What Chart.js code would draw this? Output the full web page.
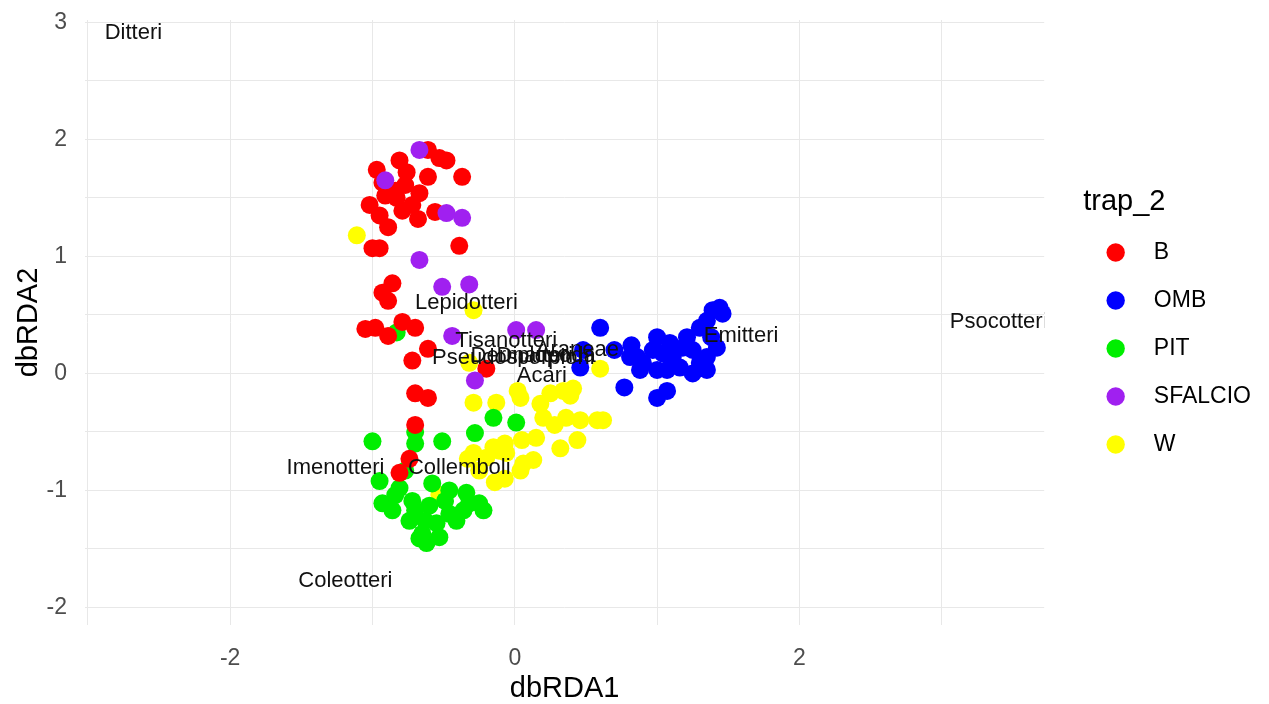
<!DOCTYPE html>
<html>
<head>
<meta charset="utf-8">
<script src="https://cdn.jsdelivr.net/npm/chart.js@4.4.1/dist/chart.umd.min.js"></script>
<style>
  html, body { margin: 0; padding: 0; background: #fff; }
  #wrap { width: 1269px; height: 704px; }
</style>
</head>
<body>
<div id="wrap"><canvas id="rdaCanvas" width="1269" height="704"></canvas></div>
<script>
// trap groups (legend order)
const trapNames = ['B', 'OMB', 'PIT', 'SFALCIO', 'W'];
const trapColors = ['#ff0000', '#0000ff', '#00ee00', '#a020f0', '#ffff00'];

// site scores: [dbRDA1, dbRDA2]
const pointsB = [
    [-0.81, 1.82], [-0.97, 1.74], [-0.93, 1.63], [-0.76, 1.72], [-0.77, 1.61], [-0.83, 1.50],
    [-0.67, 1.54], [-0.61, 1.68], [-0.61, 1.91], [-0.53, 1.84], [-0.48, 1.82], [-0.37, 1.68],
    [-1.02, 1.44], [-0.95, 1.35], [-0.89, 1.25], [-0.68, 1.32], [-0.56, 1.38], [-0.39, 1.09],
    [-1.00, 1.07], [-0.95, 1.07], [-0.86, 0.77], [-0.93, 0.69], [-0.89, 0.62], [-1.05, 0.38],
    [-0.98, 0.39], [-0.89, 0.32], [-0.79, 0.44], [-0.70, 0.39], [-0.61, 0.21], [-0.72, 0.11],
    [-0.20, 0.04], [-0.70, -0.17], [-0.61, -0.21], [-0.70, -0.44], [-0.74, -0.73], [-0.81, -0.85],
    [-0.84, 1.56], [-0.91, 1.52], [-0.72, 1.44], [-0.79, 1.39]
];
const pointsOMB = [
    [0.60, 0.39], [0.48, 0.20], [0.46, 0.05], [0.70, 0.20], [0.82, 0.24], [0.86, 0.14],
    [0.88, 0.03], [1.00, 0.31], [0.97, 0.20], [1.00, 0.03], [1.09, 0.26], [1.11, 0.14],
    [1.16, 0.05], [1.21, 0.31], [1.25, 0.20], [1.30, 0.09], [1.30, 0.39], [1.35, 0.45],
    [1.39, 0.54], [1.44, 0.56], [1.46, 0.51], [1.38, 0.31], [1.42, 0.22], [1.35, 0.03],
    [1.07, 0.03], [0.77, -0.12], [1.00, -0.21], [1.07, -0.15], [0.90, 0.09], [1.04, 0.17],
    [1.18, 0.22], [1.25, 0.00], [1.35, 0.14], [0.81, 0.14]
];
const pointsPIT = [
    [-1.00, -0.58], [-0.70, -0.50], [-0.70, -0.60], [-0.51, -0.58], [-0.28, -0.51], [-0.15, -0.38],
    [0.01, -0.42], [-0.95, -0.92], [-0.81, -0.98], [-0.93, -1.11], [-0.86, -1.17], [-0.72, -1.09],
    [-0.58, -0.94], [-0.46, -1.00], [-0.34, -1.02], [-0.25, -1.11], [-0.22, -1.17], [-0.74, -1.26],
    [-0.65, -1.37], [-0.55, -1.28], [-0.46, -1.20], [-0.36, -1.17], [-0.62, -1.45], [-0.67, -1.41],
    [-0.53, -1.40], [-0.41, -1.26], [-0.32, -1.11], [-0.77, -0.83], [-0.84, -1.04], [-0.60, -1.13],
    [-0.49, -1.09], [-0.70, -1.17], [-0.63, -1.26], [-0.83, 0.35]
];
const pointsSFALCIO = [
    [-0.67, 1.91], [-0.91, 1.65], [-0.48, 1.37], [-0.37, 1.33], [-0.67, 0.97], [-0.51, 0.74],
    [-0.32, 0.76], [-0.44, 0.32], [0.01, 0.37], [0.15, 0.37], [-0.28, -0.06]
];
const pointsW = [
    [-1.11, 1.18], [-0.29, -0.25], [-0.13, -0.25], [0.04, -0.21], [0.02, -0.15], [0.18, -0.26],
    [0.25, -0.17], [0.34, -0.15], [0.41, -0.13], [0.20, -0.38], [0.28, -0.44], [0.36, -0.38],
    [0.46, -0.40], [0.58, -0.40], [0.62, -0.40], [0.44, -0.57], [0.32, -0.64], [0.15, -0.55],
    [0.05, -0.57], [-0.07, -0.60], [-0.15, -0.63], [-0.29, -0.68], [-0.33, -0.73], [0.06, -0.77],
    [0.13, -0.74], [0.04, -0.83], [-0.11, -0.66], [-0.20, -0.72], [-0.06, -0.68], [0.60, 0.04],
    [-0.53, -1.04], [-0.29, 0.54], [-0.25, -0.83], [-0.14, -0.93], [-0.07, -0.90], [-0.32, 0.09],
    [0.39, -0.19]
];

// species scores (text labels)
const speciesNames = ['Ditteri', 'Psocotteri', 'Emitteri', 'Lepidotteri', 'Imenotteri', 'Collemboli',
    'Coleotteri', 'Acari', 'Tisanotteri', 'Pseudoscorpioni', 'Dermatteri', 'Diplopoda', 'Araneae'];
const speciesX = [-2.68, 3.40, 1.59, -0.34, -1.26, -0.39, -1.19, 0.19, -0.06, -0.01, 0.05, 0.22, 0.44];
const speciesY = [2.91, 0.44, 0.32, 0.60, -0.81, -0.81, -1.77, -0.02, 0.28, 0.13, 0.15, 0.15, 0.20];

// axis ticks
const xTickLabels = [-2, 0, 2];
const yTickLabels = [-2, -1, 0, 1, 2, 3];

const allPoints = [pointsB, pointsOMB, pointsPIT, pointsSFALCIO, pointsW];
const drawOrder = [1, 4, 2, 0, 3];

const fontFamily = '"Liberation Sans", Arial, sans-serif';

const speciesLabels = {
    id: 'speciesLabels',
    afterDatasetsDraw(chart) {
        const ctx = chart.ctx;
        const area = chart.chartArea;
        const xs = chart.scales.x;
        const ys = chart.scales.y;
        ctx.save();
        ctx.beginPath();
        ctx.rect(area.left, area.top, area.right - area.left, area.bottom - area.top);
        ctx.clip();
        ctx.font = '22px ' + fontFamily;
        ctx.fillStyle = '#111';
        ctx.textAlign = 'center';
        ctx.textBaseline = 'middle';
        for (let i = 0; i < speciesNames.length; i++) {
            ctx.fillText(speciesNames[i], xs.getPixelForValue(speciesX[i]), ys.getPixelForValue(speciesY[i]));
        }
        ctx.restore();
    }
};

const datasets = trapNames.map((name, i) => ({
    label: name,
    data: allPoints[i].map(p => ({ x: p[0], y: p[1] })),
    backgroundColor: trapColors[i],
    borderColor: trapColors[i],
    borderWidth: 0,
    pointRadius: 9,
    pointHoverRadius: 9,
    order: drawOrder[i]
}));

const ctx = document.getElementById('rdaCanvas').getContext('2d');
const rdaChart = new Chart(ctx, {
    type: 'scatter',
    data: { datasets: datasets },
    plugins: [speciesLabels],
    options: {
        responsive: false,
        animation: false,
        layout: { padding: { top: 20, right: 8, bottom: 0, left: 0 } },
        plugins: {
            tooltip: { enabled: false },
            legend: {
                position: 'right',
                align: 'start',
                title: {
                    display: true,
                    text: 'trap_2',
                    position: 'start',
                    color: '#000',
                    font: { family: fontFamily, size: 29, lineHeight: 1 },
                    padding: { top: 167, bottom: 0 }
                },
                labels: {
                    usePointStyle: true,
                    boxWidth: 15,
                    boxHeight: 13,
                    padding: 25,
                    color: '#000',
                    font: { family: fontFamily, size: 23 },
                    sort: (a, b) => a.datasetIndex - b.datasetIndex,
                    generateLabels: (chart) => {
                        const items = Chart.defaults.plugins.legend.labels.generateLabels(chart);
                        items.forEach(it => { it.text = '   ' + it.text; it.lineWidth = 0; });
                        return items;
                    }
                }
            }
        },
        scales: {
            x: {
                type: 'linear',
                min: -3.02,
                max: 3.72,
                border: { display: false },
                grid: { color: '#e8e8e8', lineWidth: 1, drawTicks: false },
                ticks: {
                    stepSize: 1,
                    includeBounds: false,
                    padding: 22,
                    color: '#4d4d4d',
                    font: { family: fontFamily, size: 23, lineHeight: 1 },
                    callback: v => xTickLabels.includes(v) ? String(v) : ''
                },
                title: {
                    display: true,
                    text: 'dbRDA1',
                    color: '#000',
                    font: { family: fontFamily, size: 29, lineHeight: 1 },
                    padding: { top: 5, bottom: 1 }
                },
                afterFit: s => { s.height = 79; }
            },
            y: {
                type: 'linear',
                min: -2.15,
                max: 3.02,
                border: { display: false },
                grid: { color: '#e8e8e8', lineWidth: 1, drawTicks: false },
                ticks: {
                    stepSize: 0.5,
                    includeBounds: false,
                    padding: 18,
                    color: '#4d4d4d',
                    font: { family: fontFamily, size: 23, lineHeight: 1 },
                    callback: v => yTickLabels.includes(v) ? String(v) : ''
                },
                title: {
                    display: true,
                    text: 'dbRDA2',
                    color: '#000',
                    font: { family: fontFamily, size: 29, lineHeight: 1.2 },
                    padding: { top: 12, bottom: 2 }
                },
                afterFit: s => { s.width = 85; s.paddingTop = 0; s.paddingBottom = 0; }
            },
            gap: {
                type: 'linear',
                position: 'right',
                display: true,
                border: { display: false },
                grid: { display: false },
                ticks: { display: false },
                afterFit: s => { s.width = 39; s.paddingTop = 0; s.paddingBottom = 0; }
            }
        }
    }
});
</script>
</body>
</html>
